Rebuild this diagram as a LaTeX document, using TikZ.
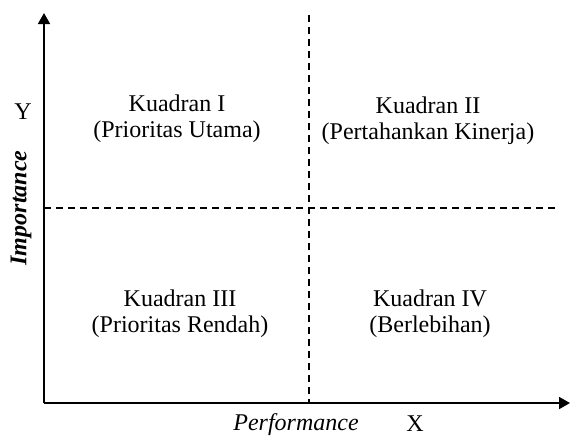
\documentclass[tikz,border=0pt]{standalone}
\usepackage{fontspec}
\setmainfont{Liberation Serif}
\usetikzlibrary{arrows.meta}

\begin{document}
\begin{tikzpicture}[x=0.5pt, y=0.5pt,
  axis/.style={-{Triangle[length=5.5pt,width=6pt]}, line width=0.9pt},
  divider/.style={dash pattern=on 3.5pt off 2.5pt, line width=0.6pt},
  quad/.style={align=center, font=\fontsize{12}{12.8}\selectfont},
  axlabel/.style={font=\fontsize{12}{14}\selectfont}
]
\useasboundingbox (0,0) rectangle (571,435);
% axes
\coordinate (origin) at (44,32);
\coordinate (ytip) at (44,422);
\coordinate (xtip) at (570,32);
\draw[axis] (origin) -- (ytip);
\draw[axis] (origin) -- (xtip);
% quadrant borders
\coordinate (vtop) at (309,420);
\coordinate (vbot) at (309,32);
\coordinate (hleft) at (44,227);
\coordinate (hright) at (555,227);
\draw[divider] (vtop) -- (vbot);
\draw[divider] (hleft) -- (hright);
% axis labels
\node[axlabel] (ylab) at (23,323) {Y};
\node[axlabel, rotate=90, font=\fontsize{12}{14}\selectfont\bfseries\itshape] (imp) at (21,227) {Importance};
\node[axlabel, font=\fontsize{12}{14}\selectfont\itshape] (perf) at (296,10) {Performance};
\node[axlabel] (xlab) at (415,11) {X};
% quadrants
\node[quad] (q1) at (177,316) {Kuadran I\\(Prioritas Utama)};
\node[quad] (q2) at (428,314) {Kuadran II\\(Pertahankan Kinerja)};
\node[quad] (q3) at (180,121) {Kuadran III\\(Prioritas Rendah)};
\node[quad] (q4) at (430,121) {Kuadran IV\\(Berlebihan)};
\end{tikzpicture}
\end{document}
